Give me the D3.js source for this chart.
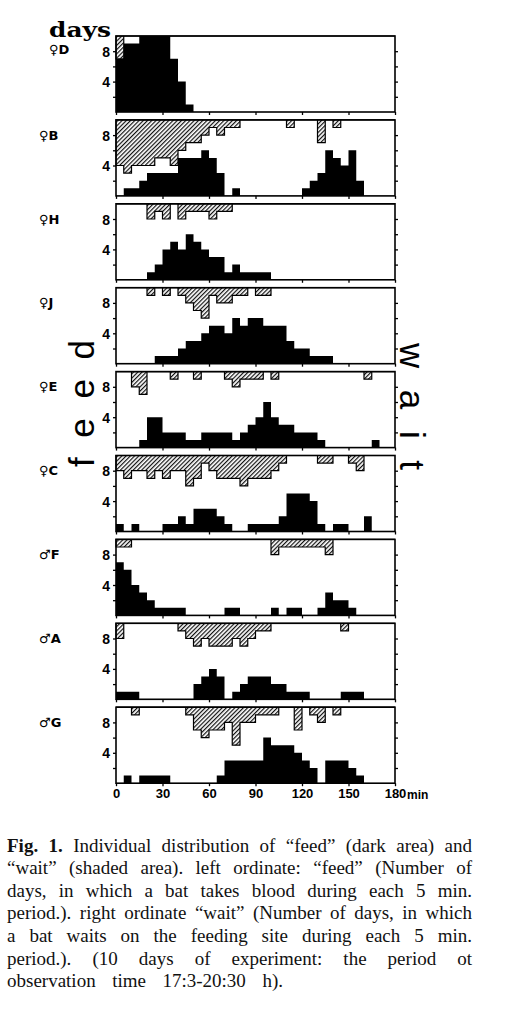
<!DOCTYPE html>
<html><head><meta charset="utf-8">
<script src="https://cdn.jsdelivr.net/npm/d3@7"></script>
<style>html,body{margin:0;padding:0;background:#fff;} svg{display:block;}</style>
</head><body>
<svg id="chart" width="510" height="1024"></svg>
<script>
// ---------- data (5-min periods, 0..175 min; number of days out of 10) ----------
const binStarts = d3.range(0, 180, 5);
const panelLabels = ["♀D","♀B","♀H","♀J","♀E","♀C","♂F","♂A","♂G"];

const feedD = [7,9,9,10,10,10,10,7,4,1, 0,0,0,0,0,0,0,0,0,0, 0,0,0,0,0,0,0,0,0,0, 0,0,0,0,0,0];
const waitD = [3,0,0,0,0,0,0,0,0,0, 0,0,0,0,0,0,0,0,0,0, 0,0,0,0,0,0,0,0,0,0, 0,0,0,0,0,0];

const feedB = [0,1,1,2,3,3,3,3,5,5, 5,6,5,3,0,1,0,0,0,0, 0,0,0,0,1,2,3,6,5,4, 6,2,0,0,0,0];
const waitB = [6,7,6,6,6,5,5,6,4,3, 3,2,1,2,1,1,0,0,0,0, 0,0,1,0,0,0,3,0,1,0, 0,0,0,0,0,0];

const feedH = [0,0,0,0,1,2,4,5,4,6, 5,4,3,3,1,2,1,1,1,1, 0,0,0,0,0,0,0,0,0,0, 0,0,0,0,0,0];
const waitH = [0,0,0,0,2,1,2,0,2,1, 1,1,2,1,1,0,0,0,0,0, 0,0,0,0,0,0,0,0,0,0, 0,0,0,0,0,0];

const feedJ = [0,0,0,0,0,1,1,1,2,3, 3,4,5,5,4,6,5,6,6,5, 5,5,3,2,2,1,1,1,0,0, 0,0,0,0,0,0];
const waitJ = [0,0,0,0,1,0,1,0,1,2, 3,4,1,2,2,1,1,0,1,1, 0,0,0,0,0,0,0,0,0,0, 0,0,0,0,0,0];

const feedE = [0,0,0,1,4,4,2,2,2,1, 1,2,2,2,2,1,2,3,4,6, 4,3,3,2,2,2,1,0,0,0, 0,0,0,1,0,0];
const waitE = [0,0,2,3,0,0,0,1,0,0, 1,0,0,0,1,2,1,1,1,0, 1,0,0,0,0,0,0,0,0,0, 0,0,1,0,0,0];

const feedC = [1,0,1,0,0,0,1,1,2,1, 3,3,3,2,1,0,0,1,1,1, 1,2,5,5,5,4,1,0,1,1, 0,0,2,0,0,0];
const waitC = [2,3,2,2,3,2,3,2,2,4, 3,1,2,3,3,3,4,3,3,3, 2,1,0,0,0,0,1,1,0,0, 1,2,0,0,0,0];

const feedF = [7,6,4,3,2,1,1,1,1,0, 0,0,0,0,1,1,0,0,0,0, 1,0,1,1,0,0,1,3,2,2, 1,0,0,0,0,0];
const waitF = [1,1,0,0,0,0,0,0,0,0, 0,0,0,0,0,0,0,0,0,0, 2,1,1,1,1,1,1,2,0,0, 0,0,0,0,0,0];

const feedA = [1,1,1,0,0,0,0,0,0,0, 2,3,4,3,0,1,2,3,3,3, 2,2,1,1,1,0,0,0,0,1, 1,1,0,0,0,0];
const waitA = [2,0,0,0,0,0,0,0,1,2, 3,2,3,3,3,2,3,2,1,1, 0,0,0,0,0,0,0,0,0,1, 0,0,0,0,0,0];

const feedG = [0,1,0,1,1,1,1,0,0,0, 0,0,0,1,3,3,3,3,3,6, 5,5,5,4,3,2,0,3,3,3, 2,1,0,0,0,0];
const waitG = [0,0,1,0,0,0,0,0,0,1, 3,4,3,3,2,5,2,2,1,1, 1,0,0,3,0,1,2,0,1,0, 0,0,0,0,0,0];

const xTicks = [0, 30, 60, 90, 120, 150, 180];
const yTicks = [2, 4, 6, 8];
const yTickLabels = {4: "4", 8: "8"};

const captionBold = "Fig. 1.";
const captionLines = [
  " Individual distribution of \u201Cfeed\u201D (dark area) and",
  "\u201Cwait\u201D (shaded area). left ordinate: \u201Cfeed\u201D (Number of",
  "days, in which a bat takes blood during each 5 min.",
  "period.). right ordinate \u201Cwait\u201D (Number of days, in which",
  "a bat waits on the feeding site during each 5 min.",
  "period.). (10 days of experiment: the period ot",
  "observation time 17:3-20:30 h)."
];

const feeds = [feedD, feedB, feedH, feedJ, feedE, feedC, feedF, feedA, feedG];
const waits = [waitD, waitB, waitH, waitJ, waitE, waitC, waitF, waitA, waitG];
const panels = panelLabels.map((label, i) => ({label, feed: feeds[i], wait: waits[i]}));

// ---------- layout ----------
const svg = d3.select("#chart");
const TOP0 = 36, PITCH = 83.9, PH = 76;
const x = d3.scaleLinear().domain([0, 180]).range([116, 395]);

const defs = svg.append("defs");
const pat = defs.append("pattern").attr("id", "hatch")
  .attr("patternUnits", "userSpaceOnUse").attr("width", 3).attr("height", 3)
  .attr("patternTransform", "rotate(45)");
pat.append("rect").attr("width", 3).attr("height", 3).attr("fill", "#fff");
pat.append("line").attr("x1", 0.6).attr("y1", -1).attr("x2", 0.6).attr("y2", 4)
  .attr("stroke", "#111").attr("stroke-width", 1.2);

panels.forEach((p, i) => {
  const top = TOP0 + i * PITCH;
  const y = d3.scaleLinear().domain([0, 10]).range([top + PH, top]);
  const g = svg.append("g");
  const pts = binStarts.map((m, k) => ({m, f: p.feed[k], w: p.wait[k]}));
  pts.push({m: 180, f: p.feed[p.feed.length - 1], w: p.wait[p.wait.length - 1]});

  g.append("path")
    .attr("d", d3.area().x(d => x(d.m)).y0(y(0)).y1(d => y(d.f)).curve(d3.curveStepAfter)(pts))
    .attr("fill", "#000");
  g.append("path")
    .attr("d", d3.area().x(d => x(d.m)).y0(y(10)).y1(d => y(10 - d.w)).curve(d3.curveStepAfter)(pts))
    .attr("fill", "url(#hatch)").attr("stroke", "#000").attr("stroke-width", 1.2);

  g.append("rect")
    .attr("x", x(0)).attr("y", y(10)).attr("width", x(180) - x(0)).attr("height", y(0) - y(10))
    .attr("fill", "none").attr("stroke", "#000").attr("stroke-width", 1.6);

  const last = i === panels.length - 1;
  const left = g.append("g").attr("transform", `translate(${x(0)},0)`)
    .call(d3.axisLeft(y).tickValues(yTicks).tickSize(3).tickPadding(3).tickFormat(d => yTickLabels[d] || ""));
  const right = g.append("g").attr("transform", `translate(${x(180)},0)`)
    .call(d3.axisRight(y).tickValues(yTicks).tickSize(3).tickFormat(""));
  const bottom = g.append("g").attr("transform", `translate(0,${y(0)})`)
    .call(d3.axisBottom(x).tickValues(xTicks).tickSize(3).tickPadding(3).tickFormat(d => last ? d : ""));
  [left, right, bottom].forEach(a => {
    a.select(".domain").remove();
    a.selectAll("line").attr("stroke", "#000").attr("stroke-width", 1.3);
    a.selectAll("text").attr("fill", "#000")
      .style("font-family", "'Liberation Sans', Arial, sans-serif").style("font-weight", "bold");
  });
  left.selectAll("text").style("font-size", "14px").attr("dy", "0.36em");
  bottom.selectAll("text").style("font-size", "13px");

  g.append("text")
    .attr("x", i === 0 ? 49 : 39).attr("y", y(8) + (i === 0 ? 3 : 4.5))
    .style("font-family", "'DejaVu Sans', sans-serif").style("font-weight", "bold")
    .style("font-size", "13px").text(p.label);
});

// "min" unit
const lastBase = TOP0 + (panels.length - 1) * PITCH + PH;
svg.append("text").attr("x", x(180) + 12).attr("y", lastBase + 15.5)
  .style("font-family", "'Liberation Sans', Arial, sans-serif").style("font-weight", "bold")
  .style("font-size", "12px").text("min");

// "days"
svg.append("text").attr("x", 49).attr("y", 37)
  .attr("textLength", 62).attr("lengthAdjust", "spacingAndGlyphs")
  .style("font-family", "'DejaVu Serif', serif").style("font-weight", "bold")
  .style("font-size", "21px").text("days");

// big rotated titles
svg.append("text").attr("transform", "translate(94,467) rotate(-90)")
  .attr("textLength", 127).attr("lengthAdjust", "spacing")
  .style("font-family", "'Liberation Sans', Arial, sans-serif").style("font-size", "35px")
  .text("feed");
svg.append("text").attr("transform", "translate(400,343) rotate(90)")
  .attr("textLength", 127).attr("lengthAdjust", "spacing")
  .style("font-family", "'Liberation Sans', Arial, sans-serif").style("font-size", "35px")
  .text("wait");

// caption
const capX = 7, capW = 465, capLastW = 276, capY0 = 851.5, capDY = 22.6;
captionLines.forEach((line, k) => {
  const t = svg.append("text").attr("x", capX).attr("y", capY0 + k * capDY)
    .attr("xml:space", "preserve")
    .style("font-family", "'Liberation Serif', 'Times New Roman', serif")
    .style("font-size", "19px").attr("fill", "#111");
  if (k === 0) t.append("tspan").style("font-weight", "bold").text(captionBold);
  t.append("tspan").text(line);
  const target = k < captionLines.length - 1 ? capW : capLastW;
  const full = (k === 0 ? captionBold : "") + line;
  const spaces = (full.trim().match(/ /g) || []).length;
  const w = t.node().getComputedTextLength();
  if (spaces > 0) t.style("word-spacing", ((target - w) / spaces) + "px");
});
</script>
</body></html>
